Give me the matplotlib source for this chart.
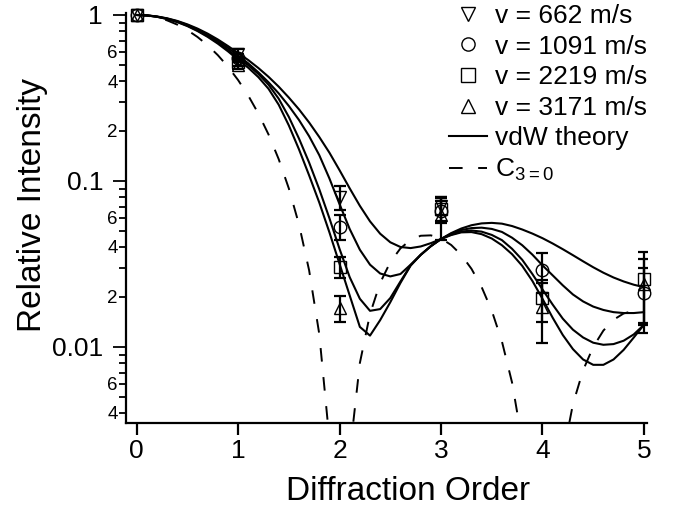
import numpy as np
import matplotlib
matplotlib.use("Agg")
import matplotlib.pyplot as plt
from matplotlib.lines import Line2D
from matplotlib.ticker import FixedLocator, FuncFormatter

plt.rcParams['font.family'] = ['Liberation Sans', 'DejaVu Sans']
plt.rcParams['mathtext.fontset'] = 'custom'
plt.rcParams['mathtext.rm'] = 'Liberation Sans'
plt.rcParams['mathtext.it'] = 'Liberation Sans:italic'

# measured diffraction efficiencies (relative to zeroth order)
orders = [0, 1, 2, 3, 4, 5]
i_662 = [1.0, 0.58, 0.080, 0.071]
e_662 = [0.0, 0.04, 0.013, 0.009]
i_1091 = [1.0, 0.55, 0.053, 0.066, 0.029, 0.021]
e_1091 = [0.0, 0.03, 0.009, 0.010, 0.008, 0.0088]
i_2219 = [1.0, 0.52, 0.0305, 0.068, 0.0197, 0.0255]
e_2219 = [0.0, 0.03, 0.0045, 0.011, 0.0055, 0.012]
i_3171 = [1.0, 0.50, 0.0172, 0.062, 0.0174, 0.024]
e_3171 = [0.0, 0.03, 0.003, 0.018, 0.0068, 0.010]

theory_x = np.round(np.arange(0, 5.001, 0.1), 1)
vdw_662 = [1.000, 0.995, 0.980, 0.955, 0.921, 0.878, 0.828, 0.772, 0.712, 0.650,
           0.590, 0.535, 0.479, 0.424, 0.370, 0.318, 0.270, 0.225, 0.184, 0.148,
           0.116, 0.0902, 0.0708, 0.0571, 0.0481, 0.0427, 0.0400, 0.0394, 0.0403, 0.0422,
           0.0447, 0.0485, 0.0517, 0.0541, 0.0555, 0.0559, 0.0553, 0.0535, 0.0510, 0.0482,
           0.0452, 0.0420, 0.0388, 0.0357, 0.0328, 0.0302, 0.0280, 0.0262, 0.0248, 0.0237, 0.0229]
vdw_1091 = [1.000, 0.995, 0.978, 0.952, 0.916, 0.870, 0.818, 0.760, 0.698, 0.634,
            0.570, 0.511, 0.451, 0.393, 0.337, 0.283, 0.233, 0.186, 0.143, 0.1035,
            0.0724, 0.0513, 0.0385, 0.0313, 0.0277, 0.0266, 0.0275, 0.0313, 0.0359, 0.0405,
            0.0447, 0.0481, 0.0506, 0.0520, 0.0523, 0.0514, 0.0493, 0.0455, 0.0410, 0.0360,
            0.0310, 0.0270, 0.0235, 0.0207, 0.0188, 0.0175, 0.0167, 0.0162, 0.0160, 0.0160, 0.0162]
vdw_2219 = [1.000, 0.994, 0.976, 0.948, 0.910, 0.862, 0.807, 0.746, 0.682, 0.617,
            0.552, 0.498, 0.441, 0.380, 0.313, 0.243, 0.180, 0.129, 0.0891, 0.0596,
            0.0389, 0.0263, 0.0195, 0.0165, 0.0169, 0.0197, 0.0248, 0.0310, 0.0359, 0.0405,
            0.0447, 0.0475, 0.0495, 0.0503, 0.0495, 0.0473, 0.0440, 0.0390, 0.0335, 0.0275,
            0.0222, 0.0180, 0.0148, 0.0127, 0.0114, 0.0106, 0.0103, 0.0104, 0.0109, 0.0119, 0.0136]
vdw_3171 = [1.000, 0.994, 0.975, 0.946, 0.906, 0.857, 0.800, 0.738, 0.672, 0.604,
            0.537, 0.481, 0.422, 0.359, 0.288, 0.216, 0.155, 0.108, 0.0741, 0.0490,
            0.0316, 0.0204, 0.0132, 0.0117, 0.0145, 0.0186, 0.0243, 0.0309, 0.0359, 0.0405,
            0.0447, 0.0472, 0.0490, 0.0492, 0.0478, 0.0450, 0.0410, 0.0362, 0.0308, 0.0250,
            0.0195, 0.0150, 0.0118, 0.0097, 0.0084, 0.0078, 0.0078, 0.0084, 0.0096, 0.0114, 0.0136]
c3_zero = [1.000, 0.9918, 0.9675, 0.9282, 0.8752, 0.8106, 0.7368, 0.6566, 0.5728, 0.4881,
           0.4053, 0.3267, 0.2546, 0.1904, 0.1353, 0.0901, 0.0547, 0.0289, 0.01194, 0.00275,
           0.0, 0.00225, 0.00800, 0.01579, 0.02431, 0.03242, 0.03924, 0.04414, 0.04676, 0.04701,
           0.04503, 0.04114, 0.03580, 0.02955, 0.02295, 0.01654, 0.01080, 0.00610, 0.00268, 0.00065,
           0.0, 0.00059, 0.00219, 0.00452, 0.00723, 0.01000, 0.01254, 0.01457, 0.01591, 0.01647, 0.01621]

series = [
    ('v = 662 m/s', 'v', i_662, e_662),
    ('v = 1091 m/s', 'o', i_1091, e_1091),
    ('v = 2219 m/s', 's', i_2219, e_2219),
    ('v = 3171 m/s', '^', i_3171, e_3171),
]

fig = plt.figure(figsize=(6.78, 5.08), dpi=100)
ax = fig.add_axes([126 / 678, 85 / 508, 521 / 678, 410 / 508])
ax.set_yscale('log')

for curve in (vdw_662, vdw_1091, vdw_2219, vdw_3171):
    ax.plot(theory_x, curve, color='k', lw=1.5)
ax.plot(theory_x, c3_zero, color='k', lw=1.4, ls=(0, (7, 8)))

for label, mk, vals, errs in series:
    xs = orders[:len(vals)]
    ax.errorbar(xs[1:], vals[1:], yerr=errs[1:], fmt='none', ecolor='k',
                elinewidth=1.6, capsize=4.5, capthick=1.6)
    ax.plot(xs, vals, ls='none', marker=mk, ms=9, mfc='none', mec='k',
            mew=1.0, clip_on=False, zorder=4)

ax.set_xlim(-0.105, 5.03)
ax.set_ylim(0.00348, 1.028)

for side in ('top', 'right'):
    ax.spines[side].set_visible(False)
for side in ('left', 'bottom'):
    ax.spines[side].set_linewidth(1.6)

ax.set_xticks(orders)
ax.tick_params(axis='x', direction='out', length=8.5, width=1.6, labelsize=19, pad=3)
ax.yaxis.set_major_locator(FixedLocator([0.01, 0.1, 1]))
ax.yaxis.set_major_formatter(FuncFormatter(lambda v, p: {0.01: '0.01', 0.1: '0.1', 1: '1'}.get(round(v, 3), '')))
minor_vals = [m * d for d in (0.001, 0.01, 0.1) for m in range(2, 10)]
ax.yaxis.set_minor_locator(FixedLocator(minor_vals))


def minor_fmt(v, p):
    m = int(round(v / 10 ** np.floor(np.log10(v) + 1e-9)))
    return str(m) if m in (2, 4, 6) else ''


ax.yaxis.set_minor_formatter(FuncFormatter(minor_fmt))
ax.tick_params(axis='y', which='major', direction='out', length=9.5, width=1.3, labelsize=19, pad=7)
ax.tick_params(axis='y', which='minor', direction='out', length=5, width=1.3, labelsize=13.5, pad=1)

ax.set_xlabel('Diffraction Order', fontsize=24)
ax.xaxis.set_label_coords(0.541, -0.13)
ax.set_ylabel('Relative Intensity', fontsize=24)
ax.yaxis.set_label_coords(-0.15, 0.532)

handles = [Line2D([], [], ls='none', marker=mk, ms=9.5, mfc='none', mec='k', mew=1.0)
           for _, mk, _, _ in series]
handles += [Line2D([], [], color='k', lw=1.5), Line2D([], [], color='k', lw=1.4, ls=(0, (7, 8)))]
labels = [s[0] for s in series] + ['vdW theory', r'C$_3$$_{= 0}$']
ax.legend(handles, labels, loc='upper left', bbox_to_anchor=(0.62, 1.022), frameon=False,
          fontsize=19, handlelength=1.45, handletextpad=0.3, labelspacing=0.25,
          borderpad=0, borderaxespad=0)

fig.savefig('out.png', dpi=100)
